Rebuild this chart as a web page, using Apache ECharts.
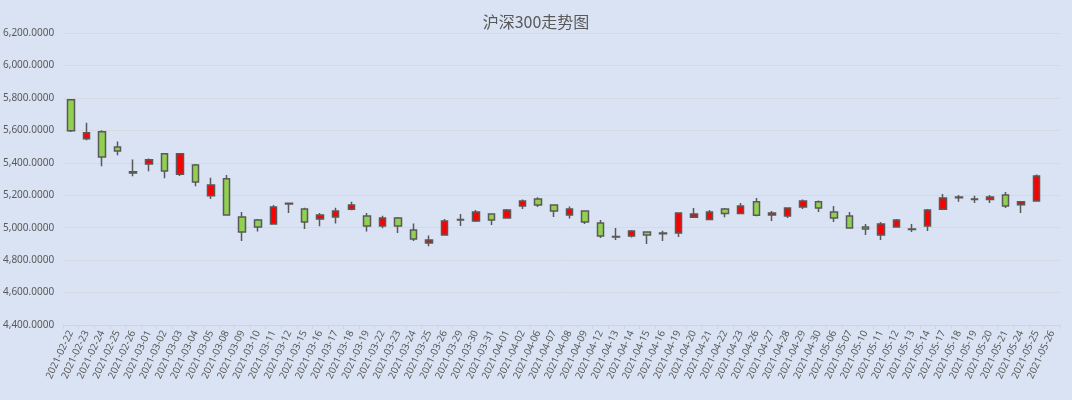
<!DOCTYPE html>
<html>
<head>
<meta charset="utf-8">
<script src="https://cdn.jsdelivr.net/npm/echarts@6/dist/echarts.min.js"></script>
<style>
html,body{margin:0;padding:0;background:#dae3f3;}
#c{width:1072px;height:400px;}
</style>
</head>
<body>
<div id="c"></div>
<script>
var dates = ["2021-02-22","2021-02-23","2021-02-24","2021-02-25","2021-02-26","2021-03-01","2021-03-02","2021-03-03","2021-03-04","2021-03-05","2021-03-08","2021-03-09","2021-03-10","2021-03-11","2021-03-12","2021-03-15","2021-03-16","2021-03-17","2021-03-18","2021-03-19","2021-03-22","2021-03-23","2021-03-24","2021-03-25","2021-03-26","2021-03-29","2021-03-30","2021-03-31","2021-04-01","2021-04-02","2021-04-06","2021-04-07","2021-04-08","2021-04-09","2021-04-12","2021-04-13","2021-04-14","2021-04-15","2021-04-16","2021-04-19","2021-04-20","2021-04-21","2021-04-22","2021-04-23","2021-04-26","2021-04-27","2021-04-28","2021-04-29","2021-04-30","2021-05-06","2021-05-07","2021-05-10","2021-05-11","2021-05-12","2021-05-13","2021-05-14","2021-05-17","2021-05-18","2021-05-19","2021-05-20","2021-05-21","2021-05-24","2021-05-25","2021-05-26"];
var openVals  = [5788,5548,5591,5498,5345,5393,5455,5329,5387,5196,5301,5066,5048,5023,5150,5115,5054,5066,5113,5072,5010,5060,4986,4906,4955,5051,5041,5085,5060,5134,5177,5140,5078,5103,5029,4946,4949,4973,4967,4967,5064,5051,5115,5088,5159,5078,5072,5128,5159,5097,5072,5004,4955,5004,4992,5010,5113,5189,5177,5173,5202,5142,5165];
var closeVals = [5597,5585,5436,5473,5337,5418,5350,5455,5282,5263,5078,4973,5004,5128,5146,5035,5078,5103,5140,5010,5060,5010,4930,4924,5041,5047,5097,5048,5109,5165,5140,5103,5115,5035,4949,4942,4980,4955,4963,5091,5085,5097,5088,5134,5076,5091,5122,5165,5122,5060,4998,4992,5023,5048,4988,5109,5183,5185,5173,5189,5134,5159,5319];
var lowVals   = [5590,5539,5378,5446,5317,5348,5304,5319,5255,5177,5078,4918,4977,5023,5091,4992,5008,5025,5107,4977,4996,4967,4918,4885,4955,5010,5035,5017,5060,5115,5128,5066,5057,5023,4936,4924,4940,4899,4918,4943,5060,5045,5064,5082,5070,5041,5060,5115,5097,5035,4998,4955,4924,5000,4973,4980,5113,5159,5152,5152,5122,5091,5165];
var highVals  = [5790,5646,5601,5531,5420,5426,5457,5457,5393,5307,5325,5097,5054,5140,5152,5123,5091,5123,5160,5091,5074,5066,5025,4951,5054,5085,5109,5087,5115,5173,5187,5142,5130,5105,5048,4998,4986,4975,4981,5093,5122,5109,5122,5152,5183,5103,5125,5173,5167,5134,5097,5023,5035,5054,5023,5115,5208,5202,5196,5202,5220,5161,5327];
var yTicks = [4400,4600,4800,5000,5200,5400,5600,5800,6000,6200];

var kData = dates.map(function(d,i){
  if (i >= openVals.length) return '-';
  return [openVals[i], closeVals[i], lowVals[i], highVals[i]];
});

function fmt(v){
  return v.toLocaleString('en-US',{minimumFractionDigits:4,maximumFractionDigits:4});
}

var chart = echarts.init(document.getElementById('c'));
chart.setOption({
  backgroundColor: '#dae3f3',
  animation: false,
  title: {
    text: '沪深300走势图',
    left: 'center',
    top: 9,
    textStyle: {color:'#595959', fontSize:16, fontWeight:'normal', fontFamily:'Noto Sans CJK SC'}
  },
  grid: {left:61, right:12, top:33, bottom:75},
  xAxis: {
    type: 'category',
    data: dates,
    boundaryGap: true,
    axisLine: {lineStyle:{color:'#d0d4dc', width:1}},
    axisTick: {show:true, alignWithLabel:false, length:4, lineStyle:{color:'#d0d4dc'}},
    axisLabel: {interval:0, rotate:65, color:'#595959', fontSize:10, fontFamily:'Noto Sans', margin:6},
    splitLine: {show:false}
  },
  yAxis: {
    type: 'value',
    min: yTicks[0],
    max: yTicks[yTicks.length-1],
    interval: 200,
    axisLine: {show:false},
    axisTick: {show:false},
    axisLabel: {color:'#595959', fontSize:10, fontFamily:'Noto Sans', margin:9, formatter: fmt},
    splitLine: {lineStyle:{color:'#d5d9e0', width:1}}
  },
  series: [{
    type: 'candlestick',
    data: kData,
    barWidth: 7,
    itemStyle: {
      color: '#ff0000',
      color0: '#92d050',
      borderColor: '#595959',
      borderColor0: '#595959',
      borderWidth: 1.5
    }
  }]
});
</script>
</body>
</html>
